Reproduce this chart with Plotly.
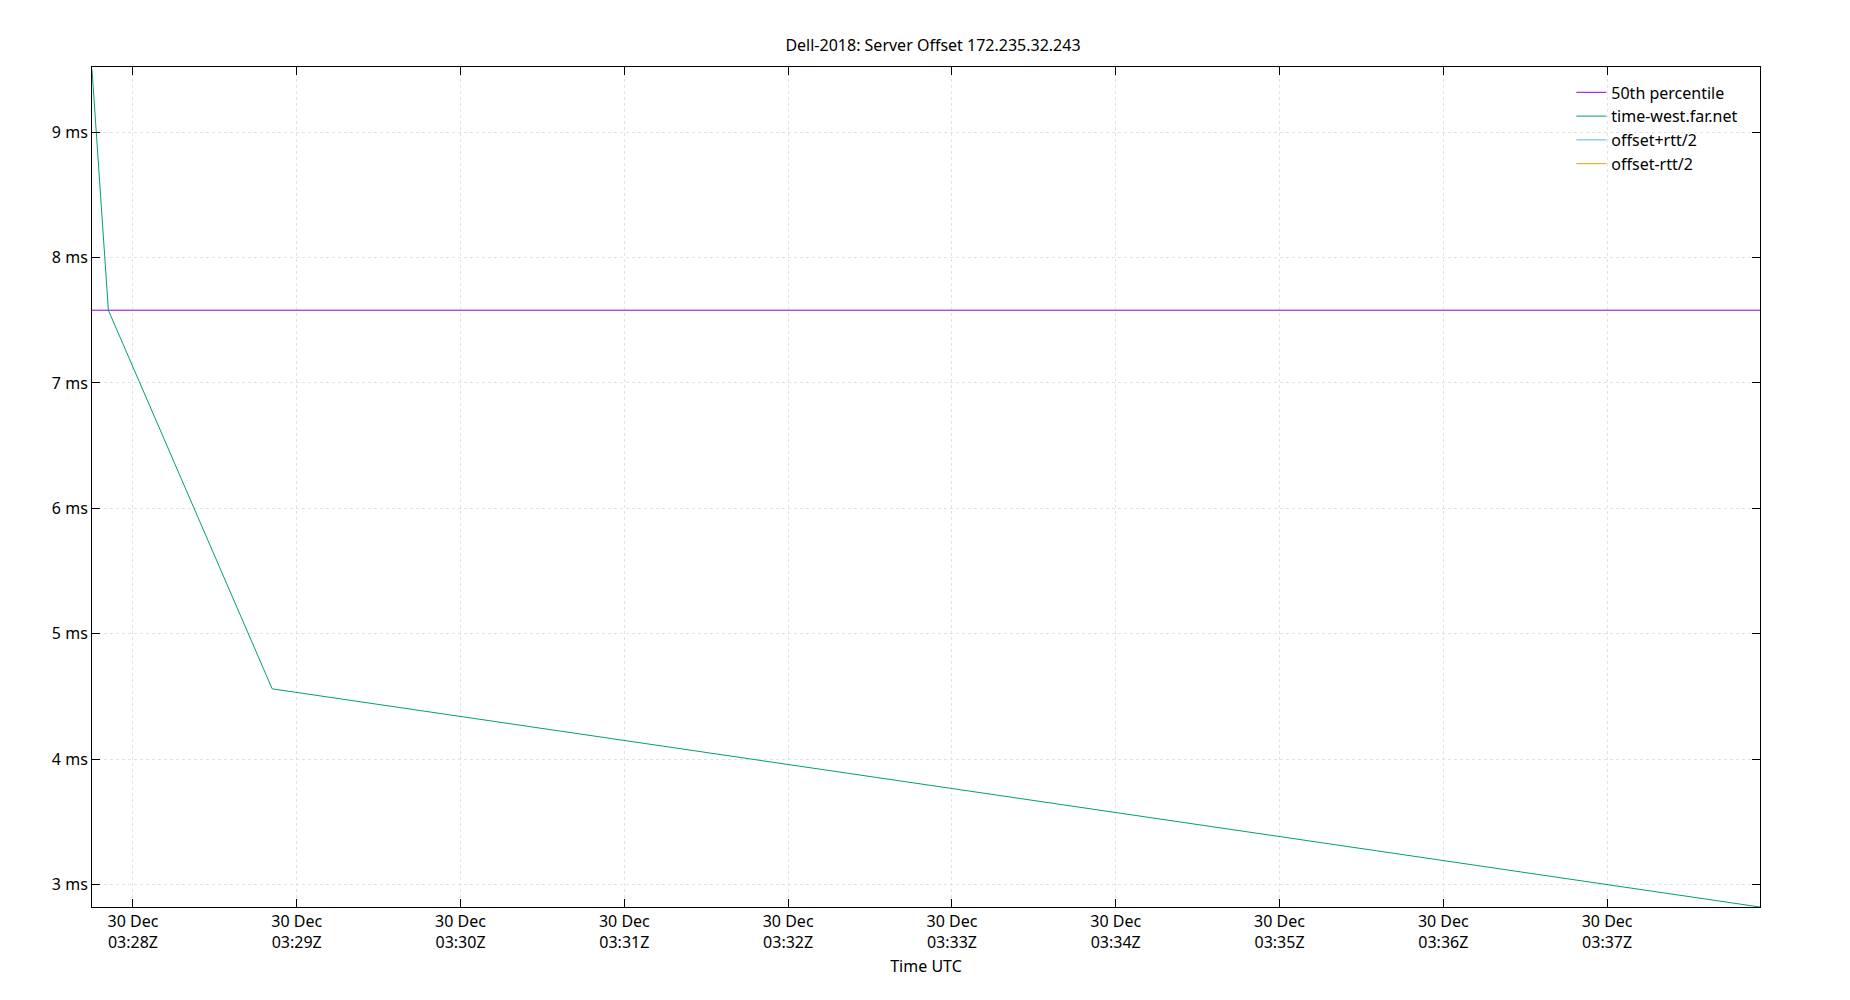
import plotly.graph_objects as go

times = ["2018-12-30 03:27:45", "2018-12-30 03:27:51", "2018-12-30 03:28:51", "2018-12-30 03:37:56"]
offsets = [9.50, 7.58, 4.56, 2.82]
p50 = 7.58
x_range = ["2018-12-30 03:27:45", "2018-12-30 03:37:56"]
y_range = [2.82, 9.52]
tick_vals = ["2018-12-30 03:%02d:00" % m for m in range(28, 38)]
tick_text = ["30 Dec<br>03:%02dZ" % m for m in range(28, 38)]
y_ticks = [3, 4, 5, 6, 7, 8, 9]

fig = go.Figure()
fig.add_trace(go.Scatter(x=x_range, y=[p50, p50], mode="lines", name="50th percentile",
                         line=dict(color="#9400d3", width=1)))
fig.add_trace(go.Scatter(x=times, y=offsets, mode="lines", name="time-west.far.net",
                         line=dict(color="#009e73", width=1)))
fig.add_trace(go.Scatter(x=[None], y=[None], mode="lines", name="offset+rtt/2",
                         line=dict(color="#56b4e9", width=1)))
fig.add_trace(go.Scatter(x=[None], y=[None], mode="lines", name="offset-rtt/2",
                         line=dict(color="#e69f00", width=1)))

axis_common = dict(showline=True, linecolor="black", linewidth=1, mirror="ticks",
                   ticks="inside", ticklen=8, tickcolor="black", tickfont=dict(size=16),
                   showgrid=True, gridcolor="#e2e2e2", griddash="dot", gridwidth=1, zeroline=False)
fig.update_xaxes(range=x_range, tickvals=tick_vals, ticktext=tick_text,
                 title=dict(text="Time UTC", standoff=8, font=dict(size=16)), **axis_common)
fig.update_yaxes(range=y_range, tickvals=y_ticks, ticktext=["%d ms" % v for v in y_ticks],
                 **axis_common)
fig.update_layout(
    width=1850, height=1000, plot_bgcolor="white", paper_bgcolor="white",
    font=dict(family="Noto Sans", size=16, color="black"),
    title=dict(text="Dell-2018: Server Offset 172.235.32.243", x=0.5, y=0.968, xanchor="center",
               font=dict(size=16)),
    margin=dict(l=84, r=98, t=59, b=101),
    legend=dict(x=0.99, y=0.99, xanchor="right", yanchor="top", bgcolor="rgba(0,0,0,0)",
                font=dict(size=16)),
)
fig.write_html("out.html")
